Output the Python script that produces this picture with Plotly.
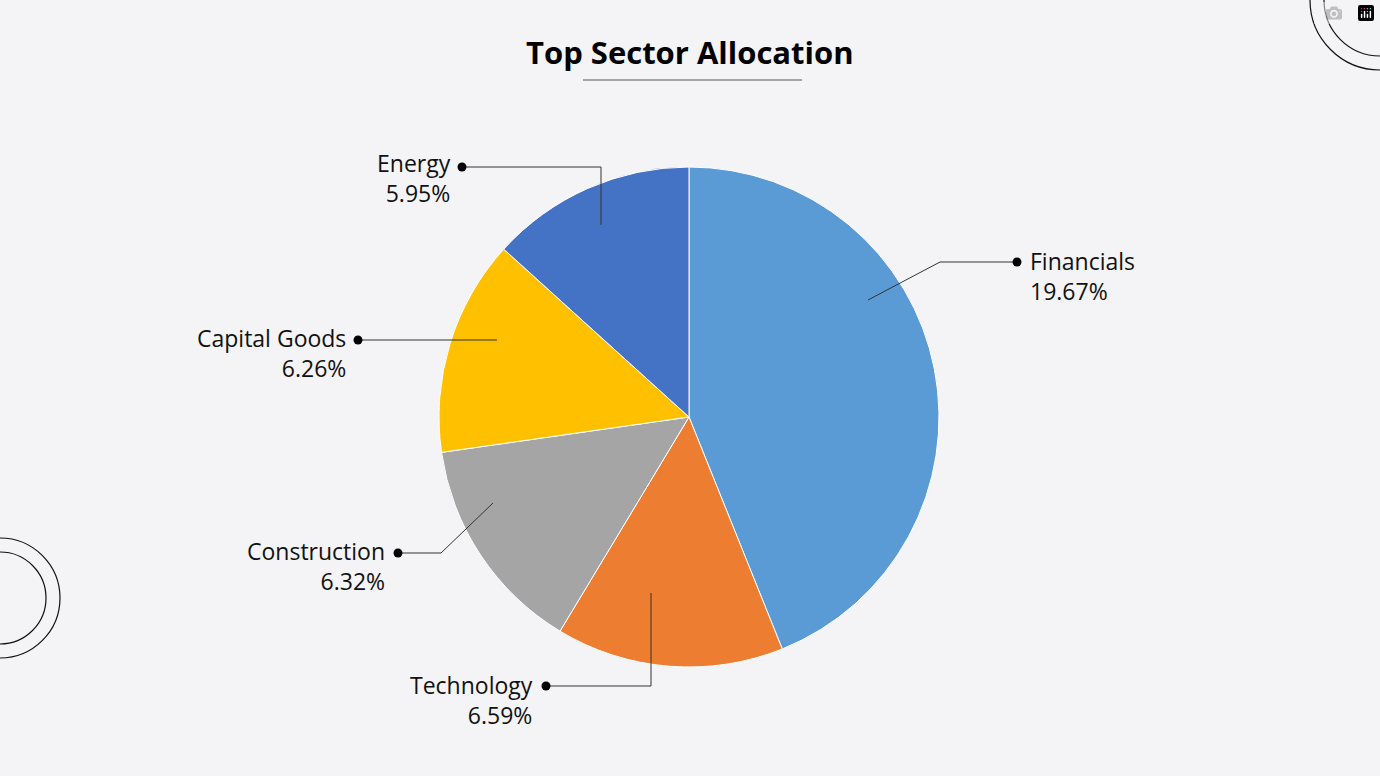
import plotly.graph_objects as go

sectors = ["Financials", "Technology", "Construction", "Capital Goods", "Energy"]
weights = [19.67, 6.59, 6.32, 6.26, 5.95]
colors = ["#5b9bd5", "#ed7d31", "#a5a5a5", "#ffc000", "#4472c4"]

W, H = 1380, 776
def px(x): return x / W
def py(y): return 1 - y / H

fig = go.Figure(go.Pie(
    labels=sectors, values=weights, sort=False, direction="clockwise", rotation=0,
    marker=dict(colors=colors, line=dict(color="white", width=1)),
    textinfo="none", hoverinfo="label+value", showlegend=False,
    domain=dict(x=[px(439), px(939)], y=[py(667), py(167)]),
))

layout_info = {
    "Financials": ([(868, 300), (940, 262), (1015, 262)], (1017, 262), 1028, 276, "left"),
    "Technology": ([(651, 593), (651, 686), (546, 686)], (546, 686), 535, 700, "right"),
    "Construction": ([(493, 503), (441, 553), (398, 553)], (398, 553), 387, 566, "right"),
    "Capital Goods": ([(497, 340), (358, 340)], (358, 340), 348, 353, "right"),
    "Energy": ([(601, 225), (601, 167), (462, 167)], (462, 167), 453, 178, "right"),
}
shapes = []
annotations = []
for name, val in zip(sectors, weights):
    path, dot, tx, ty, anc = layout_info[name]
    d = "M " + " L ".join(f"{px(x)},{py(y)}" for x, y in path)
    shapes.append(dict(type="path", path=d, xref="paper", yref="paper",
                       line=dict(color="#333", width=1)))
    r = 4.5
    shapes.append(dict(type="circle", xref="paper", yref="paper",
                       x0=px(dot[0]-r), x1=px(dot[0]+r), y0=py(dot[1]+r), y1=py(dot[1]-r),
                       fillcolor="black", line=dict(color="black", width=0)))
    annotations.append(dict(text=f"{name}<br>{val:.2f}%", x=px(tx), y=py(ty), xref="paper", yref="paper",
                            xanchor=anc, yanchor="middle", align=anc, showarrow=False,
                            font=dict(size=23, color="#111", family="Open Sans")))

annotations.append(dict(text="<b>Top Sector Allocation</b>", x=0.5, y=py(52), xref="paper", yref="paper",
                        xanchor="center", yanchor="middle",
                        showarrow=False, font=dict(size=31, color="#000", family="Open Sans")))
shapes.append(dict(type="line", xref="paper", yref="paper", x0=px(583), x1=px(802), y0=py(80), y1=py(80),
                   line=dict(color="#555", width=1)))
for cx, cy, r in [(1380, 0, 70), (1380, 0, 56), (0, 598, 60), (0, 598, 46)]:
    shapes.append(dict(type="circle", xref="paper", yref="paper",
                       x0=px(cx-r), x1=px(cx+r), y0=py(cy+r), y1=py(cy-r),
                       line=dict(color="#111", width=1.2)))

fig.update_layout(width=W, height=H, margin=dict(l=0, r=0, t=0, b=0),
                  paper_bgcolor="#f4f4f6", plot_bgcolor="#f4f4f6",
                  shapes=shapes, annotations=annotations)
fig.write_html("out.html",
               post_script="document.body.style.margin='0';document.body.style.background='#f4f4f6';")
